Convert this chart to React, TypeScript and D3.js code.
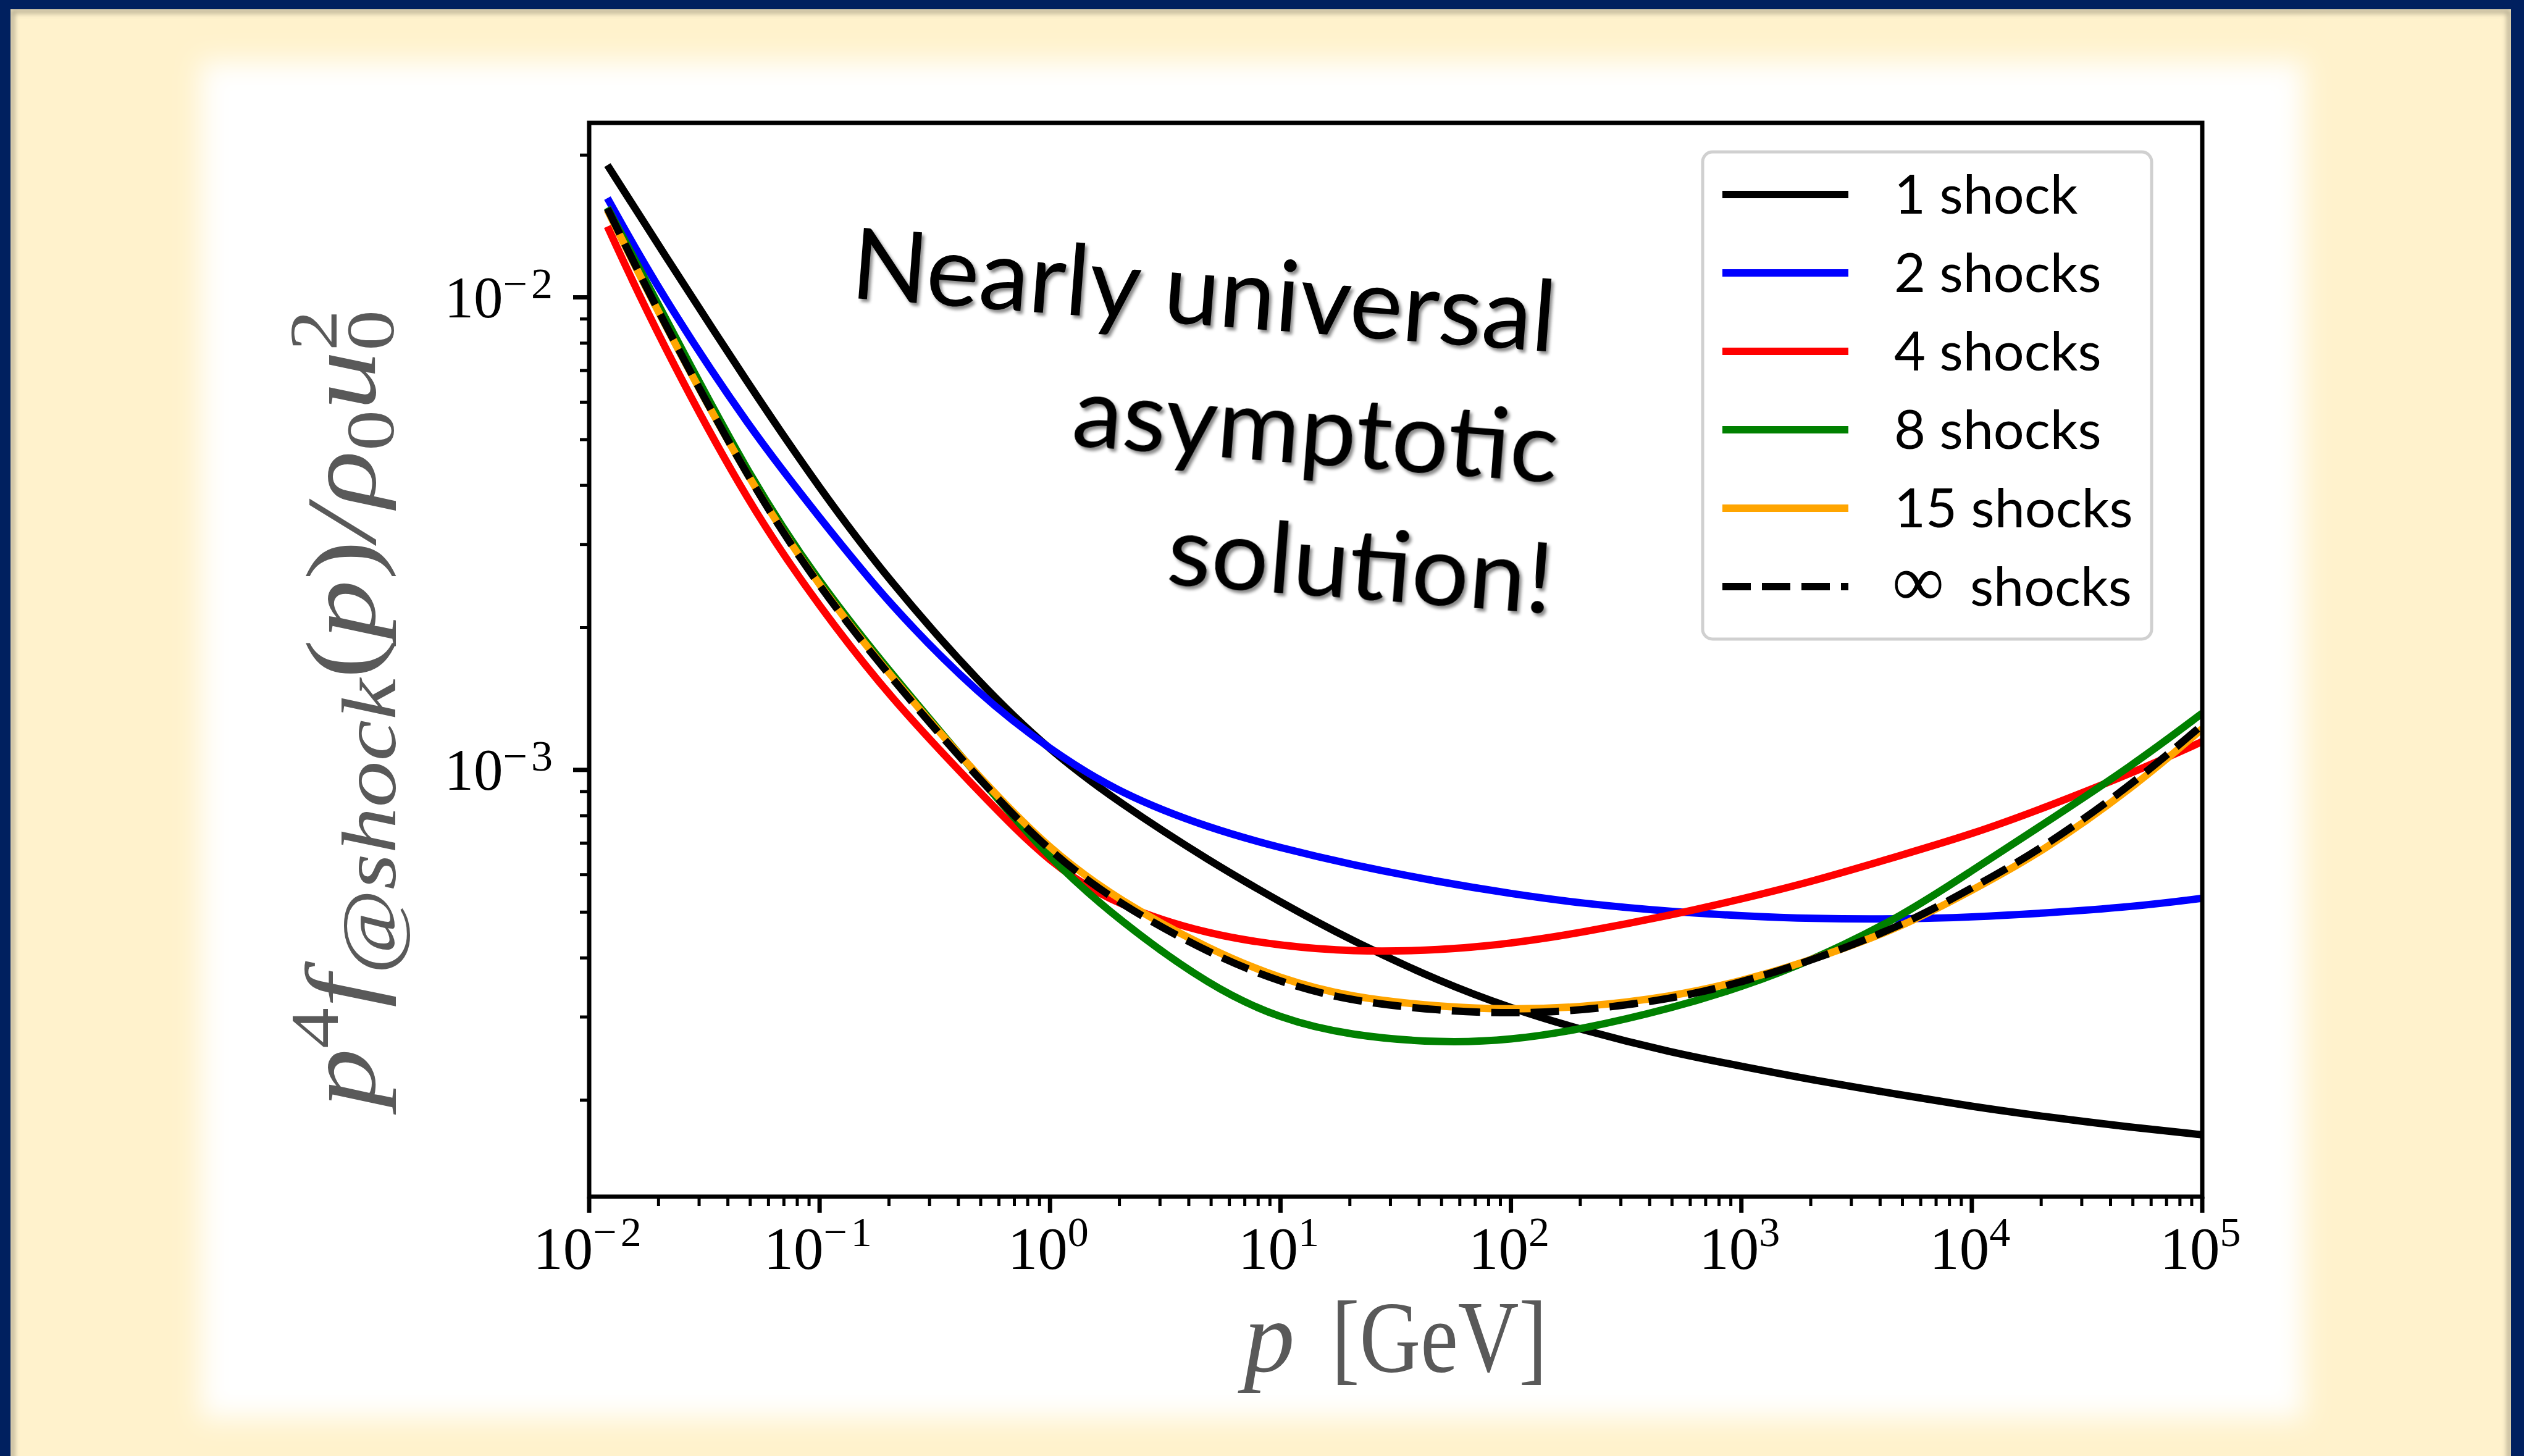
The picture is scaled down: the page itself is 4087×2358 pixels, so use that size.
import React from 'react';
import * as d3 from 'd3';

// momentum grid [GeV], shared by every curve
const P = [0.012, 0.02, 0.05, 0.1, 0.2, 0.5, 1, 2, 5, 10, 20, 50, 100, 200, 500, 1e3, 2e3, 5e3, 1e4, 2e4, 5e4, 1e5];

// p^4 f(p) / rho0 u0^2
const oneShock = [0.01905, 0.01288, 0.006457, 0.003936, 0.002512, 0.001514, 0.001096, 0.000851, 0.000638, 0.000525, 0.000437, 0.000355, 0.000313, 0.000282, 0.000252, 0.000236, 0.000221, 0.000205, 0.000194, 0.000185, 0.000175, 0.000169];
const twoShocks = [0.01622, 0.01035, 0.005248, 0.00342, 0.002239, 0.001429, 0.001104, 0.000891, 0.00075, 0.000684, 0.000631, 0.000578, 0.000547, 0.000522, 0.000501, 0.000491, 0.000484, 0.000483, 0.000488, 0.000497, 0.000513, 0.000535];
const fourShocks = [0.01413, 0.008222, 0.003589, 0.002213, 0.001429, 0.000891, 0.000631, 0.000513, 0.000447, 0.000425, 0.000412, 0.000415, 0.000429, 0.000452, 0.000493, 0.000533, 0.000579, 0.000661, 0.000731, 0.000826, 0.000986, 0.001148];
const eightShocks = [0.01549, 0.009638, 0.004121, 0.002483, 0.001618, 0.000955, 0.000646, 0.000479, 0.000347, 0.000297, 0.000274, 0.000264, 0.000268, 0.000282, 0.000313, 0.000347, 0.000394, 0.00049, 0.000612, 0.000762, 0.001023, 0.001318];
const fifteenShocks = [0.01531, 0.009226, 0.004036, 0.002438, 0.001592, 0.000955, 0.000676, 0.000528, 0.000415, 0.000361, 0.00033, 0.000315, 0.000311, 0.000314, 0.000331, 0.000357, 0.000395, 0.000465, 0.000556, 0.000668, 0.000916, 0.001222];
const infShocks = [0.01542, 0.009268, 0.004036, 0.002427, 0.001581, 0.000944, 0.000668, 0.000519, 0.000407, 0.000355, 0.000324, 0.000309, 0.000305, 0.000309, 0.000327, 0.000355, 0.000394, 0.000468, 0.000562, 0.000679, 0.000933, 0.001245];

const LABELS = ['1 shock', '2 shocks', '4 shocks', '8 shocks', '15 shocks', '\u221E shocks'];
const X_LIMITS = [1e-2, 1e5];
const Y_LIMITS = [1.25e-4, 0.0234];
const NOTE_LINES = ['Nearly universal', 'asymptotic', 'solution!'];

const STYLES = [
  { color: '#000000', dash: null },
  { color: '#0000ff', dash: null },
  { color: '#ff0000', dash: null },
  { color: '#008000', dash: null },
  { color: '#ffa500', dash: null },
  { color: '#000000', dash: '46 18' },
];

const W = 4087;
const H = 2358;
const M = { left: 954, right: 3566, top: 199, bottom: 1938 };
const LW = 12;
const SERIF = '"Liberation Serif", "DejaVu Serif", serif';
const SANS = 'Lato, "Open Sans", sans-serif';
const GRAY = '#595959';

const isMajor = (v: number) => Math.abs(Math.log10(v) - Math.round(Math.log10(v))) < 1e-6;
const expOf = (v: number) => {
  const e = Math.round(Math.log10(v));
  return e < 0 ? '\u2212' + Math.abs(e) : String(e);
};

export default function App() {
  const x = d3.scaleLog().domain(X_LIMITS).range([M.left, M.right]);
  const y = d3.scaleLog().domain(Y_LIMITS).range([M.bottom, M.top]);
  const series = [oneShock, twoShocks, fourShocks, eightShocks, fifteenShocks, infShocks];

  const line = d3
    .line<number>()
    .x((_, i) => x(P[i]))
    .y(d => y(d))
    .curve(d3.curveBasis);

  const xTicks = x.ticks().filter(t => t >= X_LIMITS[0] * 0.999 && t <= X_LIMITS[1] * 1.001);
  const yTicks = y.ticks().filter(t => t >= Y_LIMITS[0] && t <= Y_LIMITS[1]);

  // note text placement (right end of each baseline)
  const noteAnchors = [
    { x: 2515, y: 570, len: 1143 },
    { x: 2519, y: 782, len: 788 },
    { x: 2511, y: 994, len: 626 },
  ];

  const legend = { x: 2757, y: 246, w: 727, h: 789, row0: 315, step: 127 };

  return (
    <svg width={W} height={H} style={{ position: 'fixed', left: 0, top: 0 }}>
      <defs>
        <filter id="soft" x="-10%" y="-10%" width="120%" height="120%">
          <feGaussianBlur stdDeviation="22" />
        </filter>
        <filter id="edge" x="-5%" y="-5%" width="110%" height="110%">
          <feGaussianBlur stdDeviation="4" />
        </filter>
        <filter id="txtShadow" x="-5%" y="-20%" width="110%" height="140%">
          <feDropShadow dx="4" dy="5" stdDeviation="2.5" floodColor="#000" floodOpacity="0.45" />
        </filter>
        <clipPath id="plotClip">
          <rect x={M.left} y={M.top} width={M.right - M.left} height={M.bottom - M.top} />
        </clipPath>
      </defs>

      {/* slide background */}
      <rect x={0} y={0} width={W} height={H} fill="#FFF2CC" />
      <rect x={325} y={100} width={3730 - 325} height={2297 - 100} fill="#ffffff" filter="url(#soft)" />
      <rect x={20} y={18} width={W - 44} height={H + 40} fill="none" stroke="#000" strokeOpacity={0.35} strokeWidth={6} filter="url(#edge)" />
      <rect x={0} y={0} width={W} height={15} fill="#00205F" />
      <rect x={0} y={0} width={17} height={H} fill="#00205F" />
      <rect x={4066} y={0} width={21} height={H} fill="#00205F" />

      {/* curves */}
      <g clipPath="url(#plotClip)" fill="none">
        {series.map((s, i) => (
          <path
            key={LABELS[i]}
            d={line(s) || ''}
            stroke={STYLES[i].color}
            strokeWidth={LW}
            strokeDasharray={STYLES[i].dash || undefined}
          />
        ))}
      </g>

      {/* ticks */}
      <g stroke="#000">
        {xTicks.map(t => (
          <line
            key={'xt' + t}
            x1={x(t)}
            x2={x(t)}
            y1={M.bottom}
            y2={M.bottom + (isMajor(t) ? 26 : 15)}
            strokeWidth={isMajor(t) ? 7 : 5}
          />
        ))}
        {yTicks.map(t => (
          <line
            key={'yt' + t}
            x1={M.left}
            x2={M.left - (isMajor(t) ? 26 : 15)}
            y1={y(t)}
            y2={y(t)}
            strokeWidth={isMajor(t) ? 7 : 5}
          />
        ))}
      </g>
      <g fontFamily={SERIF} fill="#000">
        {xTicks.filter(isMajor).map(t => (
          <text key={'xl' + t} x={x(t)} y={M.bottom + 117} fontSize={97} textAnchor="middle">
            10
            <tspan dy={-37} fontSize={68} letterSpacing={6}>{expOf(t)}</tspan>
          </text>
        ))}
        {yTicks.filter(isMajor).map(t => (
          <text key={'yl' + t} x={901} y={y(t) + 32} fontSize={95} textAnchor="end">
            10
            <tspan dy={-31} fontSize={70} letterSpacing={6}>{expOf(t)}</tspan>
          </text>
        ))}
      </g>

      {/* frame */}
      <rect x={M.left} y={M.top} width={M.right - M.left} height={M.bottom - M.top} fill="none" stroke="#000" strokeWidth={7} />

      {/* axis titles */}
      <g fill={GRAY} fontFamily={SERIF}>
        <text x={2014} y={2221} fontSize={165} fontStyle="italic">p</text>
        <text x={2156} y={2221} fontSize={165} textLength={349} lengthAdjust="spacingAndGlyphs">[GeV]</text>
        <g transform="translate(607,1148) rotate(-90) scale(1.2,1)">
          <text x={0} y={0} fontSize={160} fontStyle="italic" textAnchor="middle">
            <tspan>p</tspan>
            <tspan dy={-60} fontSize={110} fontStyle="normal">4</tspan>
            <tspan dy={60}>f</tspan>
            <tspan dy={33} fontSize={125}>@shock</tspan>
            <tspan dy={-33} fontStyle="normal">(</tspan>
            <tspan>p</tspan>
            <tspan fontStyle="normal">)</tspan>
            <tspan>/ρ</tspan>
            <tspan dy={30} fontSize={110} fontStyle="normal">0</tspan>
            <tspan dy={-30}>u</tspan>
            <tspan dy={30} fontSize={110} fontStyle="normal">0</tspan>
            <tspan dx={-55} dy={-92} fontSize={110} fontStyle="normal">2</tspan>
          </text>
        </g>
      </g>

      {/* annotation */}
      <g fontFamily={SANS} fontSize={160} fill="#000" filter="url(#txtShadow)">
        {NOTE_LINES.map((s, i) => (
          <text
            key={s}
            transform={`translate(${noteAnchors[i].x},${noteAnchors[i].y}) rotate(4.4)`}
            textAnchor="end"
            textLength={noteAnchors[i].len}
            lengthAdjust="spacingAndGlyphs"
          >
            {s}
          </text>
        ))}
      </g>

      {/* legend */}
      <g>
        <rect x={legend.x} y={legend.y} width={legend.w} height={legend.h} rx={16} fill="#fff" fillOpacity={0.8} stroke="#d0d0d0" strokeWidth={5} />
        {LABELS.map((lab, i) => {
          const ry = legend.row0 + i * legend.step;
          const inf = lab.startsWith('\u221E');
          return (
            <g key={'lg' + lab}>
              <line x1={2789} x2={2993} y1={ry} y2={ry} stroke={STYLES[i].color} strokeWidth={LW} strokeDasharray={STYLES[i].dash || undefined} />
              {inf ? (
                <text y={ry + 31} fontFamily={SANS} fontSize={88} fill="#000">
                  <tspan x={3064} fontFamily={SERIF} fontSize={118}>∞</tspan>
                  <tspan x={3190}>shocks</tspan>
                </text>
              ) : (
                <text x={3067} y={ry + 31} fontFamily={SANS} fontSize={88} fill="#000">{lab}</text>
              )}
            </g>
          );
        })}
      </g>
    </svg>
  );
}
